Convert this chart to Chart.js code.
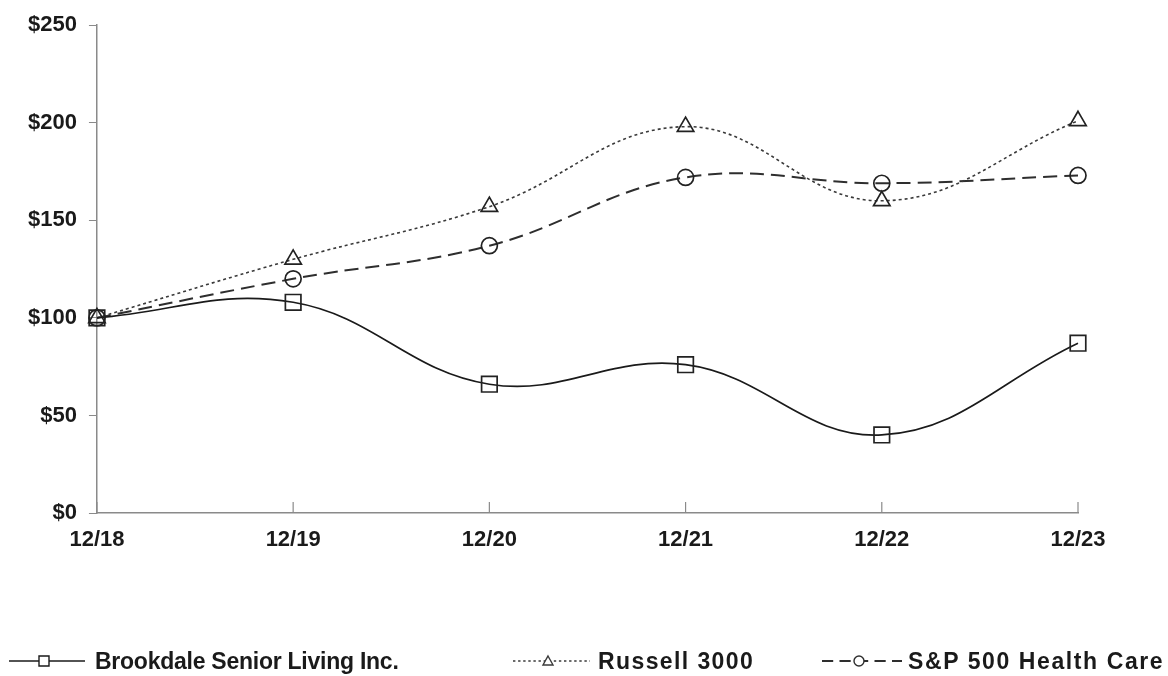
<!DOCTYPE html>
<html>
<head>
<meta charset="utf-8">
<script src="https://cdn.jsdelivr.net/npm/chart.js@4.4.1/dist/chart.umd.min.js"></script>
<style>
  html, body { margin: 0; padding: 0; background: #fff; }
  #wrap { width: 1168px; height: 676px; position: relative; }
  .leg-icon { position: absolute; }
  .leg-text {
    position: absolute;
    top: 647px;
    font-family: 'Liberation Sans', Arial, sans-serif;
    font-weight: bold;
    font-size: 23px;
    line-height: 28px;
    color: #1a1a1a;
    white-space: nowrap;
  }
</style>
</head>
<body>
<div id="wrap">
  <canvas id="perfChart"></canvas>
  <div id="legend"></div>
</div>
<script>
// values
const years = ['12/18', '12/19', '12/20', '12/21', '12/22', '12/23'];
const brookdale = [100, 108, 66, 76, 40, 87];
const russell = [100, 130, 157, 198, 160, 201];
const spHealth = [100, 120, 137, 172, 169, 173];
const seriesNames = ['Brookdale Senior Living Inc.', 'Russell 3000', 'S&P 500 Health Care'];
const yTicks = [0, 50, 100, 150, 200, 250];

const styles = [
  { color: '#1a1a1a', dash: [], width: 1.7, marker: 'rect', radius: 11 },
  { color: '#3a3a3a', dash: [3, 3], width: 1.6, marker: 'triangle', radius: 9.5 },
  { color: '#2e2e2e', dash: [14, 7], width: 2, marker: 'circle', radius: 8 }
];

// legend spots, taken from the reference layout
const legIconLeft = [9, 513, 822];
const legIconWidth = [76, 77, 80];
const legTextLeft = [95, 598, 908];
const legSpacing = [-0.25, 1.4, 1.6];

function legendIcon(st, w) {
  const c = document.createElement('canvas');
  c.width = w; c.height = 20;
  const ctx = c.getContext('2d');
  const mx = Math.round(w * 0.46);
  ctx.strokeStyle = st.color;
  ctx.lineWidth = st.width;
  ctx.setLineDash(st.dash.length ? [st.dash[0] * 0.8, st.dash[1] * 0.9] : []);
  ctx.beginPath();
  ctx.moveTo(0, 10); ctx.lineTo(w, 10);
  ctx.stroke();
  ctx.setLineDash([]);
  ctx.lineWidth = 1.4;
  ctx.fillStyle = '#fff';
  ctx.beginPath();
  if (st.marker === 'rect') {
    ctx.rect(mx - 5, 5, 10, 10);
  } else if (st.marker === 'triangle') {
    ctx.moveTo(mx, 5); ctx.lineTo(mx + 5, 14); ctx.lineTo(mx - 5, 14); ctx.closePath();
  } else {
    ctx.arc(mx, 10, 5, 0, Math.PI * 2);
  }
  ctx.fill();
  ctx.stroke();
  return c;
}

const legendBox = document.getElementById('legend');
seriesNames.forEach((n, i) => {
  const ic = legendIcon(styles[i], legIconWidth[i]);
  ic.className = 'leg-icon';
  ic.style.left = legIconLeft[i] + 'px';
  ic.style.top = '651px';
  legendBox.appendChild(ic);
  const t = document.createElement('div');
  t.className = 'leg-text';
  t.style.left = legTextLeft[i] + 'px';
  t.style.letterSpacing = legSpacing[i] + 'px';
  t.textContent = n;
  legendBox.appendChild(t);
});

const innerTicks = {
  id: 'innerTicks',
  afterDraw(chart) {
    const x = chart.scales.x;
    const ctx = chart.ctx;
    ctx.save();
    ctx.strokeStyle = '#8a8a8a';
    ctx.lineWidth = 1.2;
    x.ticks.forEach((t, i) => {
      const px = x.getPixelForTick(i);
      ctx.beginPath();
      ctx.moveTo(px, x.top);
      ctx.lineTo(px, x.top - 11);
      ctx.stroke();
    });
    ctx.restore();
  }
};

const allData = [brookdale, russell, spHealth];

new Chart(document.getElementById('perfChart'), {
  type: 'line',
  data: {
    labels: years,
    datasets: allData.map((d, i) => ({
      label: seriesNames[i],
      data: d,
      borderColor: styles[i].color,
      borderWidth: styles[i].width,
      borderDash: styles[i].dash,
      tension: 0.4,
      pointStyle: styles[i].marker,
      pointRadius: styles[i].radius,
      pointBorderWidth: 1.7,
      pointBorderColor: '#222',
      pointBackgroundColor: 'rgba(0,0,0,0)',
      fill: false
    }))
  },
  options: {
    responsive: true,
    maintainAspectRatio: false,
    animation: false,
    layout: { padding: { top: 23, right: 90, left: 16, bottom: 0 } },
    plugins: {
      tooltip: { enabled: false },
      legend: { display: false }
    },
    scales: {
      x: {
        offset: false,
        grid: { display: false, drawTicks: false },
        border: { color: '#8a8a8a', width: 1.5 },
        ticks: {
          color: '#1a1a1a',
          padding: 14,
          maxRotation: 0,
          font: { family: 'Liberation Sans', size: 22, weight: 'bold' }
        },
        afterFit: (scale) => { scale.height = 163; }
      },
      y: {
        min: 0,
        max: 250,
        afterBuildTicks: (scale) => { scale.ticks = yTicks.map(v => ({ value: v })); },
        grid: { drawOnChartArea: false, drawTicks: true, tickLength: 8, color: '#8a8a8a' },
        border: { color: '#8a8a8a', width: 1.5 },
        ticks: {
          color: '#1a1a1a',
          padding: 12,
          font: { family: 'Liberation Sans', size: 22, weight: 'bold' },
          callback: (v) => '$' + v
        }
      }
    }
  },
  plugins: [innerTicks]
});
</script>
</body>
</html>
